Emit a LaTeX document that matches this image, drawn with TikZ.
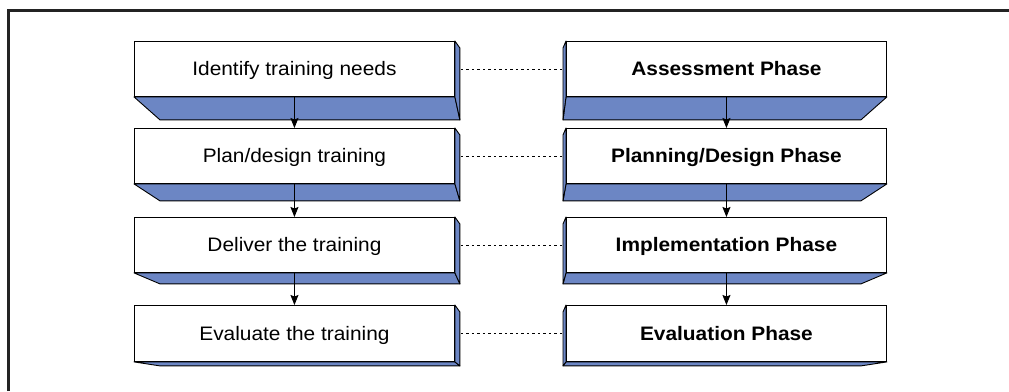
\documentclass[tikz,border=0pt]{standalone}
\usepackage{fontspec}
\setmainfont{Liberation Sans}
\usetikzlibrary{calc,backgrounds,arrows.meta}
\definecolor{facecol}{RGB}{108,134,196}
\definecolor{framecol}{RGB}{35,35,35}
\tikzset{
  front/.style={draw=black, line width=0.9pt, fill=white, minimum width=320pt, minimum height=55pt, inner sep=0pt, anchor=north west, text height=13.5pt, text depth=0pt, font=\fontsize{19.5}{22}\selectfont},
  face/.style={draw=black, line width=0.9pt, fill=facecol, line join=round},
  arr/.style={line width=0.9pt, -{Stealth[length=10pt,width=8pt,inset=1.5pt]}},
  link/.style={line width=0.8pt, dash pattern=on 2.5pt off 3pt},
}
\newcommand{\sx}[1]{\scalebox{1.07}[1]{#1}}
\begin{document}
\begin{tikzpicture}[x=1pt,y=-1pt]
\useasboundingbox (0,0) rectangle (1009,391);
\draw[line width=3pt, color=framecol] (8,391) -- (8,10) -- (1009,10);

% front faces
\node[front] (L1) at (134,41) {\sx{Identify training needs}};
\node[front] (L2) at (134,128) {\sx{Plan/design training}};
\node[front] (L3) at (134,217) {\sx{Deliver the training}};
\node[front, minimum height=56pt] (L4) at (134,305) {\sx{Evaluate the training}};
\node[front] (R1) at (566,41) {\sx{\bfseries Assessment Phase}};
\node[front] (R2) at (566,128) {\sx{\bfseries Planning/Design Phase}};
\node[front] (R3) at (566,217) {\sx{\bfseries Implementation Phase}};
\node[front, minimum height=56pt] (R4) at (566,305) {\sx{\bfseries Evaluation Phase}};

% extruded faces
\begin{scope}[on background layer]
\foreach \n/\d in {1/23,2/17,3/11,4/4}{
  % left column: bottom and right side
  \draw[face] (L\n.south west) -- (L\n.south east) -- ($(L\n.south east)+(5,\d)$) -- ($(L\n.south west)+(26,\d)$) -- cycle;
  \draw[face] (L\n.north east) -- ($(L\n.north east)+(5,7)$) -- ($(L\n.south east)+(5,\d)$) -- (L\n.south east) -- cycle;
  % right column: bottom and left side
  \draw[face] (R\n.south west) -- (R\n.south east) -- ($(R\n.south east)+(-26,\d)$) -- ($(R\n.south west)+(-3,\d)$) -- cycle;
  \draw[face] (R\n.north west) -- ($(R\n.north west)+(-3,7)$) -- ($(R\n.south west)+(-3,\d)$) -- (R\n.south west) -- cycle;
}
\end{scope}

% arrows
\foreach \a/\b in {1/2,2/3,3/4}{
  \draw[arr] (L\a.south) -- (L\b.north);
  \draw[arr] (R\a.south) -- (R\b.north);
}
% dotted links
\foreach \n in {1,2,3,4}{
  \draw[link] ($(L\n.east)+(6,0)$) -- ($(R\n.west)+(-4,0)$);
}
\end{tikzpicture}
\end{document}
